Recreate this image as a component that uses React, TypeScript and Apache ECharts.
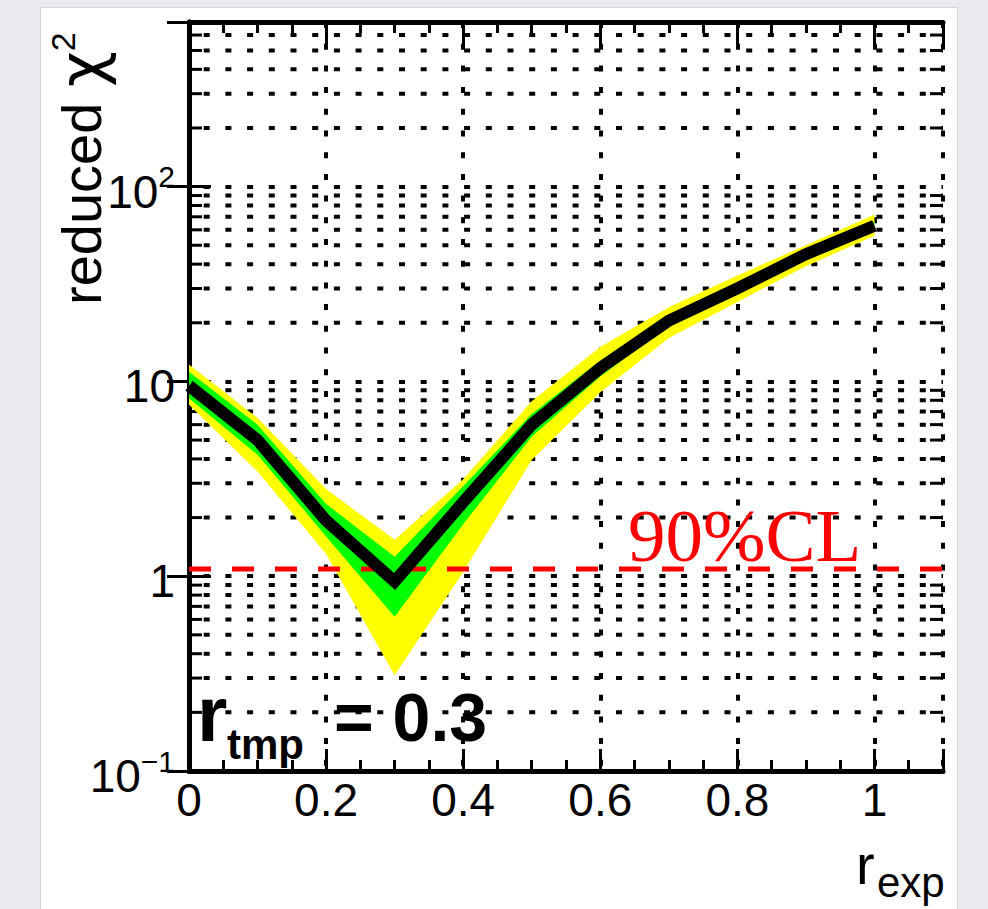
import React, { useEffect, useRef } from 'react';
import * as echarts from 'echarts';

// r_exp sampling points
const rExp = [0, 0.1, 0.2, 0.3, 0.4, 0.5, 0.6, 0.7, 0.8, 0.9, 1.0];
// central reduced chi2 curve
const chi2Central = [9.5, 5.0, 1.93, 0.94, 2.4, 6.0, 11.7, 20.5, 30, 45, 63];
// inner (green) band
const chi2GreenHigh = [11.2, 6.0, 2.35, 1.26, 2.9, 6.8, 12.8, 21.8, 31.5, 47, 66];
const chi2GreenLow = [8.2, 4.2, 1.6, 0.62, 1.85, 5.2, 10.6, 19.3, 28.5, 43, 60];
// outer (yellow) band
const chi2YellowHigh = [12.2, 6.5, 2.8, 1.54, 3.15, 7.9, 15.0, 24, 35, 50, 72];
const chi2YellowLow = [7.6, 3.45, 1.3, 0.31, 1.05, 3.95, 8.8, 16.7, 25.6, 39, 56];
// 90% confidence level threshold
const cl90 = 1.09;
// log-axis minor grid rows
const yMinorRows = [
  0.2, 0.3, 0.4, 0.5, 0.6, 0.7, 0.8, 0.9,
  2, 3, 4, 5, 6, 7, 8, 9,
  20, 30, 40, 50, 60, 70, 80, 90,
  200, 300, 400, 500, 600,
];
const X_MIN = 0;
const X_MAX = 1.1;
const Y_MIN = 0.1;
const Y_MAX = 700;

const SANS = '"Liberation Sans", Arial, Helvetica, sans-serif';
const SERIF = '"Liberation Serif", "Times New Roman", serif';
const DOT = [6, 15.7];

function bandSeries(lo: number[], hi: number[], color: string, z: number) {
  return {
    type: 'custom',
    z,
    silent: true,
    data: rExp.map((x, i) => [x, lo[i], hi[i]]),
    encode: { x: 0, y: [1, 2] },
    renderItem: (params: any, api: any) => {
      if (params.dataIndex !== 0) return null;
      const upper = rExp.map((x, i) => api.coord([x, hi[i]]));
      const lower = rExp.map((x, i) => api.coord([x, lo[i]])).reverse();
      return {
        type: 'polygon',
        shape: { points: upper.concat(lower) },
        style: { fill: color, stroke: 'none' },
      };
    },
  };
}

function yLabel(v: number) {
  const e = Math.round(Math.log10(v));
  if (Math.abs(Math.pow(10, e) - v) > 1e-6 * v) return '';
  if (e === 0) return '{n|1}';
  if (e === 1) return '{n|10}';
  return `{n|10}{s|${e < 0 ? '\u2212' : ''}${Math.abs(e)}}`;
}

export default function App() {
  const ref = useRef<HTMLDivElement>(null);

  useEffect(() => {
    if (!ref.current) return;
    const chart = echarts.init(ref.current, undefined, { renderer: 'svg' });

    const axisLine = { show: true, lineStyle: { color: '#000', width: 5 } };
    const tick = { show: true, inside: true, length: 22, lineStyle: { color: '#000', width: 3 } };
    const minor = { show: true, splitNumber: 4, length: 11, lineStyle: { color: '#000', width: 3 } };

    chart.setOption({
      animation: false,
      backgroundColor: 'transparent',
      grid: { left: 189, right: 45, top: 22, bottom: 138, outerBoundsMode: 'none' },
      xAxis: [
        {
          type: 'value', min: X_MIN, max: X_MAX, interval: 0.2, position: 'bottom',
          axisLine, axisTick: tick, minorTick: minor,
          splitLine: { show: true, lineStyle: { color: '#000', width: 4, type: DOT } },
          axisLabel: {
            margin: 6, fontSize: 46, fontFamily: SANS, color: '#000',
            formatter: (v: number) => (v > 1.05 ? '' : String(Math.round(v * 10) / 10)),
          },
        },
        {
          type: 'value', min: X_MIN, max: X_MAX, interval: 0.2, position: 'top',
          axisLine, axisTick: tick, minorTick: minor,
          splitLine: { show: false }, axisLabel: { show: false },
        },
      ],
      yAxis: [
        {
          type: 'log', logBase: 10, min: Y_MIN, max: Y_MAX, position: 'left',
          axisLine, axisTick: tick,
          splitLine: { show: true, lineStyle: { color: '#000', width: 4, type: DOT, dashOffset: 7 } },
          axisLabel: {
            margin: 14, color: '#000', padding: [10, 0, 0, 0],
            formatter: yLabel,
            rich: {
              n: { fontSize: 46, fontFamily: SANS, color: '#000', lineHeight: 60 },
              s: { fontSize: 30, fontFamily: SANS, color: '#000', lineHeight: 30, verticalAlign: 'top' },
            },
          },
        },
        {
          type: 'log', logBase: 10, min: Y_MIN, max: Y_MAX, position: 'right',
          axisLine, axisTick: tick,
          splitLine: { show: false }, axisLabel: { show: false },
        },
      ],
      series: [
        {
          // minor log grid rows and their ticks on both sides
          type: 'custom',
          z: 1,
          silent: true,
          data: yMinorRows.map((v) => [X_MIN, v]),
          encode: { x: 0, y: 1 },
          renderItem: (params: any, api: any) => {
            const cs = params.coordSys;
            const y = api.coord([X_MIN, api.value(1)])[1];
            const right = cs.x + cs.width;
            return {
              type: 'group',
              children: [
                {
                  type: 'line',
                  shape: { x1: cs.x, y1: y, x2: right, y2: y },
                  style: { stroke: '#000', lineWidth: 4, lineDash: DOT, lineDashOffset: 7 },
                },
                {
                  type: 'line',
                  shape: { x1: cs.x, y1: y, x2: cs.x + 13, y2: y },
                  style: { stroke: '#000', lineWidth: 3 },
                },
                {
                  type: 'line',
                  shape: { x1: right - 13, y1: y, x2: right, y2: y },
                  style: { stroke: '#000', lineWidth: 3 },
                },
              ],
            };
          },
        },
        bandSeries(chi2YellowLow, chi2YellowHigh, '#ffff00', 2),
        bandSeries(chi2GreenLow, chi2GreenHigh, '#00ff00', 3),
        {
          type: 'line',
          z: 4,
          silent: true,
          symbol: 'none',
          data: [[X_MIN, cl90], [X_MAX, cl90]],
          lineStyle: { color: '#ff0000', width: 5, type: [22, 21] },
        },
        {
          type: 'line',
          z: 5,
          silent: true,
          symbol: 'none',
          data: rExp.map((x, i) => [x, chi2Central[i]]),
          lineStyle: { color: '#000', width: 12, join: 'miter', cap: 'butt' },
        },
      ],
      graphic: [
        {
          type: 'text', x: 81, y: 305, rotation: Math.PI / 2, z: 10,
          style: {
            text: '{a|reduced }{c|\u03c7}{b|2}',
            align: 'left', verticalAlign: 'middle',
            rich: {
              a: { fontSize: 56, fontFamily: SANS, fill: '#000', lineHeight: 70 },
              c: { fontSize: 62, fontFamily: '"DejaVu Sans", sans-serif', fill: '#000', lineHeight: 70 },
              b: { fontSize: 34, fontFamily: SANS, fill: '#000', lineHeight: 34, verticalAlign: 'top' },
            },
          },
        },
        {
          type: 'text', x: 856, y: 864, z: 10,
          style: { text: 'r', fontSize: 56, fontFamily: SANS, fill: '#000', align: 'left', verticalAlign: 'middle' },
        },
        {
          type: 'text', x: 877, y: 882, z: 10,
          style: { text: 'exp', fontSize: 42, fontFamily: SANS, fill: '#000', align: 'left', verticalAlign: 'middle' },
        },
        {
          type: 'text', x: 197, y: 714, z: 10,
          style: { text: 'r', fontSize: 78, fontWeight: 'bold', fontFamily: SANS, fill: '#000', align: 'left', verticalAlign: 'middle' },
        },
        {
          type: 'text', x: 227, y: 744, z: 10,
          style: { text: 'tmp', fontSize: 42, fontWeight: 'bold', fontFamily: SANS, fill: '#000', align: 'left', verticalAlign: 'middle' },
        },
        {
          type: 'text', x: 334, y: 717, z: 10,
          style: { text: '= 0.3', fontSize: 68, fontWeight: 'bold', fontFamily: SANS, fill: '#000', align: 'left', verticalAlign: 'middle' },
        },
        {
          type: 'text', x: 628, y: 535, z: 10,
          style: { text: '90%CL', fontSize: 75, fontFamily: SERIF, fill: '#ff0000', align: 'left', verticalAlign: 'middle' },
        },
      ],
    });

    return () => chart.dispose();
  }, []);

  return (
    <div style={{ position: 'fixed', left: 0, top: 0, width: 988, height: 909, background: '#e9ebf1', overflow: 'hidden' }}>
      <div
        style={{
          position: 'absolute', left: 40, top: 7, width: 918, height: 910,
          background: '#ffffff', border: '1px solid #d2d5db', boxSizing: 'border-box',
        }}
      />
      <div ref={ref} style={{ position: 'absolute', left: 0, top: 0, width: 988, height: 909 }} />
    </div>
  );
}
